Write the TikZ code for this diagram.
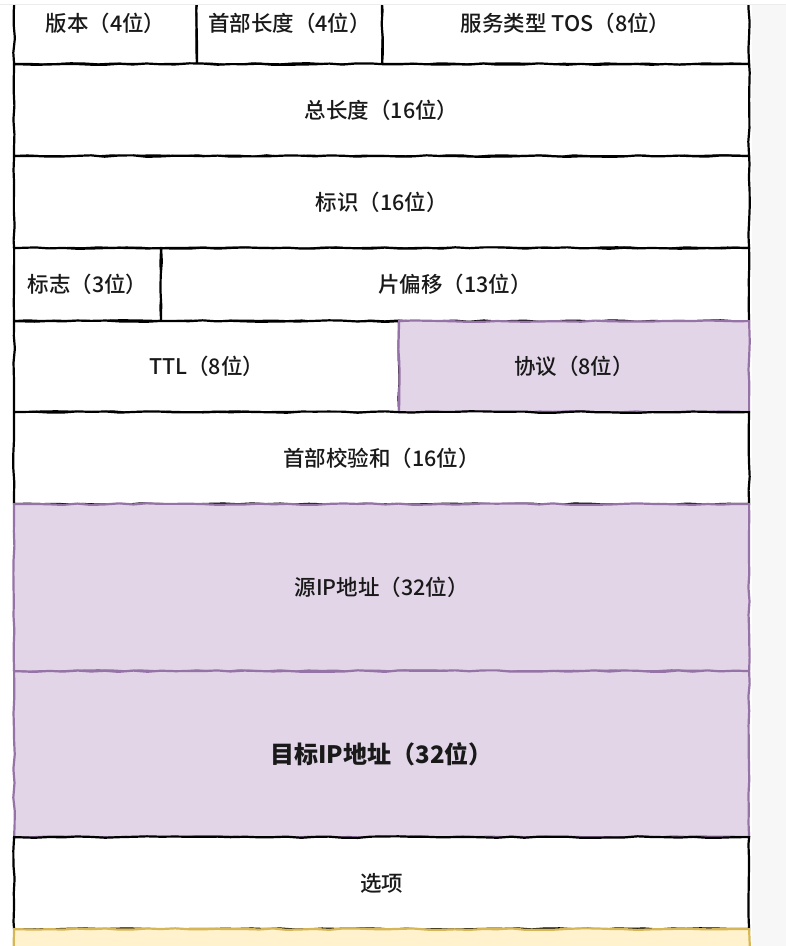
\documentclass[tikz,border=0pt]{standalone}
\usepackage{fontspec}
\setmainfont{Noto Sans CJK SC Medium}
\usetikzlibrary{decorations.pathmorphing}
\definecolor{lilac}{HTML}{E1D5E7}
\definecolor{lilacline}{HTML}{9673A6}
\definecolor{sand}{HTML}{FFF2CC}
\definecolor{sandline}{HTML}{D6B656}

\begin{document}
\begin{tikzpicture}[x=1pt, y=-1pt]
    \tikzstyle{field} = [rectangle, draw, line width=2.2pt, fill=white, anchor=north west, inner sep=0pt,
        decorate, decoration={random steps, segment length=14pt, amplitude=0.8pt}, font=\fontsize{21.5}{24}\selectfont, text=black!90]
    \tikzstyle{marked} = [field, fill=lilac, draw=lilacline]
    \pgfmathsetseed{7}
    \useasboundingbox (0,0) rectangle (786,946);
    \fill[gray!6] (752,0) rectangle (786,946);
    % first word of the header
    \node[field, minimum width=183pt, minimum height=82pt] (ver) at (13,-19) {版本（4位）};
    \node[field, minimum width=185pt, minimum height=82pt] (ihl) at (196,-19) {首部长度（4位）};
    \node[field, minimum width=367pt, minimum height=82pt] (tos) at (381,-19) {服务类型 TOS（8位）};
    \foreach \name/\top/\txt in {totlen/63/总长度（16位）, ident/155/标识（16位）}
        \node[field, minimum width=735pt, minimum height=92pt] (\name) at (13,\top) {\txt};
    \node[field, minimum width=147pt, minimum height=73pt] (flags) at (13,247) {标志（3位）};
    \node[field, minimum width=588pt, minimum height=73pt] (frag) at (160,247) {片偏移（13位）};
    \node[field, minimum width=385pt, minimum height=91pt] (ttl) at (13,320) {TTL（8位）};
    \node[marked, minimum width=350pt, minimum height=91pt] (proto) at (398,320) {协议（8位）};
    \node[field, minimum width=735pt, minimum height=92pt] (chk) at (13,411) {首部校验和（16位）};
    \node[marked, minimum width=735pt, minimum height=167pt] (src) at (13,503) {源IP地址（32位）};
    \node[marked, minimum width=735pt, minimum height=166pt, font=\fontsize{24}{28}\selectfont\bfseries] (dst) at (13,670) {目标IP地址（32位）};
    \node[field, minimum width=735pt, minimum height=92pt] (opt) at (13,836) {选项};
    \node[field, fill=sand, draw=sandline, minimum width=735pt, minimum height=60pt] (pad) at (13,928) {};
    \fill[white] (0,0) rectangle (786,4);
    \draw[gray!15, thin] (0,4) -- (786,4);
\end{tikzpicture}
\end{document}
